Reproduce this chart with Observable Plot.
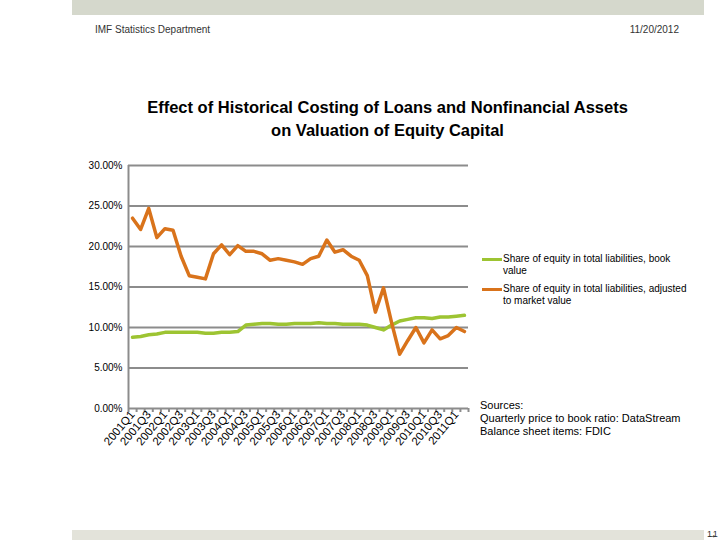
<!DOCTYPE html>
<html><head><meta charset="utf-8">
<script src="https://cdn.jsdelivr.net/npm/d3@7"></script>
<script src="https://cdn.jsdelivr.net/npm/@observablehq/plot@0.6"></script>
<style>
body{margin:0;background:#fff;font-family:"Liberation Sans",Arial,sans-serif;}
#wrap{position:relative;width:720px;height:540px;overflow:hidden;}
#wrap svg{position:absolute;left:0;top:0;}
.abs{position:absolute;white-space:nowrap;color:#000;}
</style></head><body><div id="wrap"></div>
<script>
const quarters = ["2001Q1","2001Q2","2001Q3","2001Q4","2002Q1","2002Q2","2002Q3","2002Q4",
  "2003Q1","2003Q2","2003Q3","2003Q4","2004Q1","2004Q2","2004Q3","2004Q4",
  "2005Q1","2005Q2","2005Q3","2005Q4","2006Q1","2006Q2","2006Q3","2006Q4",
  "2007Q1","2007Q2","2007Q3","2007Q4","2008Q1","2008Q2","2008Q3","2008Q4",
  "2009Q1","2009Q2","2009Q3","2009Q4","2010Q1","2010Q2","2010Q3","2010Q4",
  "2011Q1","2011Q2"];
// Share of equity in total liabilities, book value (%)
const bookValue = [8.8,8.9,9.1,9.2,9.4,9.4,9.4,9.4,9.4,9.3,9.3,9.4,9.4,9.5,10.3,10.4,
  10.5,10.5,10.4,10.4,10.5,10.5,10.5,10.6,10.5,10.5,10.4,10.4,10.4,10.3,10.0,9.7,
  10.3,10.8,11.0,11.2,11.2,11.1,11.3,11.3,11.4,11.5];
// Share of equity in total liabilities, adjusted to market value (%)
const marketValue = [23.5,22.1,24.7,21.1,22.2,22.0,18.8,16.4,16.2,16.0,19.1,20.2,19.0,20.1,19.4,19.4,
  19.1,18.3,18.5,18.3,18.1,17.8,18.5,18.8,20.8,19.3,19.6,18.8,18.3,16.4,11.9,14.9,
  10.6,6.7,8.4,10.0,8.1,9.7,8.6,9.0,10.0,9.5];
const yTicks = [0,5,10,15,20,25,30];
const seriesNames = ["Share of equity in total liabilities, book value",
  "Share of equity in total liabilities, adjusted to market value"];
const seriesColors = ["#9dc432","#d9731b"];

const data = quarters.map((q,i)=>({i, q, book: bookValue[i], market: marketValue[i]}));
const grid = "#8c8c8c";
const chart = Plot.plot({
  width:720, height:540,
  marginLeft:128, marginRight:252, marginTop:165, marginBottom:132,
  style:{fontFamily:"Liberation Sans, Arial, sans-serif", fontSize:"10px", color:"#000", background:"transparent"},
  x:{type:"linear", domain:[-0.5, quarters.length-0.5], axis:null},
  y:{domain:[0,30], axis:null},
  marks:[
    Plot.ruleY(yTicks.filter(v=>v>0), {stroke:grid, strokeWidth:2}),
    Plot.axisY({ticks: yTicks, tickSize:0, tickPadding:6, tickFormat: d=>d.toFixed(2)+"%", fontSize:10}),
    Plot.ruleX(d3.range(-0.5, quarters.length), {x:d=>d, y1:0, y2:0, stroke:grid, strokeWidth:2, insetBottom:-4}),
    Plot.axisX({ticks: d3.range(0, quarters.length, 2), tickSize:0, tickRotate:-50, tickFormat: i=>quarters[i], tickPadding:4, fontSize:11.5}),
    Plot.ruleY([0], {stroke:grid, strokeWidth:2}),
    Plot.ruleX([-0.5], {stroke:grid, strokeWidth:2}),
    Plot.lineY(data, {x:"i", y:"book", stroke:seriesColors[0], strokeWidth:3.5}),
    Plot.lineY(data, {x:"i", y:"market", stroke:seriesColors[1], strokeWidth:3.5})
  ]
});
const wrap = document.getElementById("wrap");
wrap.appendChild(chart);
function box(css, html){const d=document.createElement("div");d.className="abs";d.style.cssText=css;d.innerHTML=html;wrap.appendChild(d);return d;}
box("left:72px;top:0;width:632px;height:15px;background:#d5d8cc;","");
box("left:72px;top:530px;width:632px;height:10px;background:#e3e3da;","");
box("left:707px;top:529px;font-size:9px;line-height:11px;letter-spacing:1.5px;color:#333;","11");
box("left:95px;top:24px;font-size:10px;color:#333;","IMF Statistics Department");
box("right:41px;top:24px;font-size:10px;color:#333;","11/20/2012");
box("left:0;width:775px;top:96px;font-size:16.5px;line-height:23px;font-weight:bold;text-align:center;",
  "Effect of Historical Costing of Loans and Nonfinancial Assets<br>on Valuation of Equity Capital");
// legend
const legTop = [259, 289];
seriesNames.forEach((name,k)=>{
  box(`left:482px;top:${legTop[k]-1}px;width:20px;height:3px;background:${seriesColors[k]};`,"");
  const parts = k===0 ? ["Share of equity in total liabilities, book","value"] : ["Share of equity in total liabilities, adjusted","to market value"];
  box(`left:503px;top:${legTop[k]-6}px;font-size:10px;line-height:12px;`, parts.join("<br>"));
});
box("left:480px;top:399px;font-size:11px;line-height:13px;","Sources:<br>Quarterly price to book ratio: DataStream<br>Balance sheet items: FDIC");
</script></body></html>
